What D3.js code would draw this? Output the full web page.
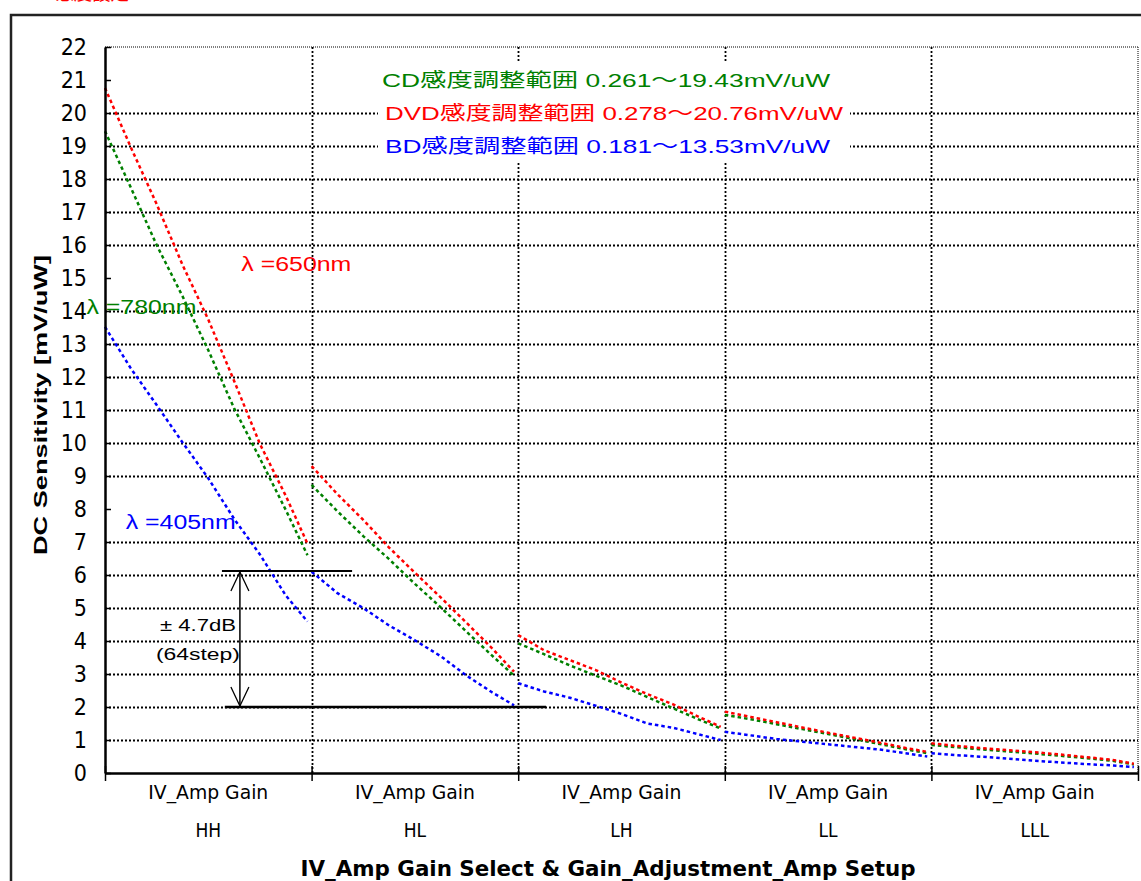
<!DOCTYPE html>
<html>
<head>
<meta charset="utf-8">
<script src="https://cdn.jsdelivr.net/npm/d3@7"></script>
<style>
  body { margin: 0; background: #fff; }
  svg { display: block; font-family: "Liberation Sans", Arial, "Noto Sans CJK JP", sans-serif; }
  .narrow { font-family: "Liberation Sans Narrow", "DejaVu Sans Condensed", "Liberation Sans", "Noto Sans CJK JP", sans-serif; }
</style>
</head>
<body>
<div id="chart"></div>
<script>
// gain settings (x categories)
var groups = ["HH", "HL", "LH", "LL", "LLL"];
// position of each read sample inside one gain group (0 = start, 1 = next group)
var stepPos = [0, 0.125, 0.25, 0.375, 0.5, 0.625, 0.75, 0.875, 0.98];

// DC sensitivity [mV/uW], one row per gain group
var cdValues = [
    [19.45, 17.74, 16.0, 14.45, 12.81, 11.05, 9.53, 7.97, 6.6],
    [8.73, 7.93, 7.18, 6.48, 5.73, 5.02, 4.28, 3.55, 2.95],
    [3.93, 3.6, 3.26, 2.95, 2.65, 2.3, 1.96, 1.62, 1.35],
    [1.76, 1.63, 1.48, 1.33, 1.18, 1.03, 0.88, 0.72, 0.6],
    [0.85, 0.78, 0.71, 0.65, 0.59, 0.52, 0.45, 0.37, 0.26]
];
var dvdValues = [
    [20.76, 18.96, 17.24, 15.4, 13.74, 11.88, 9.97, 8.4, 6.95],
    [9.3, 8.45, 7.67, 6.83, 6.07, 5.32, 4.55, 3.77, 3.07],
    [4.18, 3.72, 3.42, 3.12, 2.74, 2.39, 2.08, 1.7, 1.4],
    [1.86, 1.7, 1.54, 1.38, 1.22, 1.07, 0.92, 0.76, 0.64],
    [0.9, 0.82, 0.75, 0.69, 0.63, 0.56, 0.48, 0.4, 0.28]
];
var bdValues = [
    [13.52, 12.26, 11.15, 10.02, 8.93, 7.7, 6.62, 5.38, 4.59],
    [6.1, 5.45, 5.0, 4.47, 4.02, 3.54, 2.95, 2.44, 2.05],
    [2.72, 2.47, 2.28, 2.04, 1.79, 1.5, 1.37, 1.17, 1.0],
    [1.25, 1.14, 1.03, 0.95, 0.87, 0.79, 0.71, 0.6, 0.5],
    [0.6, 0.54, 0.49, 0.43, 0.37, 0.32, 0.27, 0.23, 0.18]
];

var yTicks = d3.range(0, 23);
var gridValues = [1, 2, 3, 4, 5, 6, 7, 9, 10, 11, 12, 13, 14, 16, 17, 18, 19, 20];

var legendTexts = [
    "CD感度調整範囲  0.261～19.43mV/uW",
    "DVD感度調整範囲  0.278～20.76mV/uW",
    "BD感度調整範囲  0.181～13.53mV/uW"
];
var seriesColors = ["#008000", "#ff0000", "#0000ff"];
var waveLabels = ["λ =780nm", "λ =650nm", "λ =405nm"];

// ±4.7dB range marker (sensitivity units)
var rangeTop = 6.12, rangeBottom = 2.0;

var W = 1141, H = 881;
var margin = { top: 47, right: 3, bottom: 108, left: 105 };
var width = W - margin.left - margin.right,
    height = H - margin.top - margin.bottom;

var svg = d3.select("#chart").append("svg")
    .attr("width", W)
    .attr("height", H);

// red caption, cut by the top edge as in the original
svg.append("text")
    .attr("x", 37).attr("y", 0)
    .attr("fill", "#ff0000")
    .attr("font-size", 18)
    .attr("textLength", 92)
    .attr("lengthAdjust", "spacingAndGlyphs")
    .text("※感度設定");

// outer frame
svg.append("rect")
    .attr("x", 11).attr("y", 15)
    .attr("width", 1200).attr("height", 1000)
    .attr("fill", "none")
    .attr("stroke", "#222")
    .attr("stroke-width", 2.5);

var g = svg.append("g")
    .attr("transform", "translate(" + margin.left + "," + margin.top + ")");

var x = d3.scaleLinear().domain([0, groups.length]).range([0, width]);
var y = d3.scaleLinear().domain([0, 22]).range([height, 0]);

// plot border (top / right)
g.append("line")
    .attr("x1", 0).attr("x2", width)
    .attr("y1", 0).attr("y2", 0)
    .attr("stroke", "#555").attr("stroke-width", 1.5)
    .attr("stroke-dasharray", "1,1");
g.append("line")
    .attr("x1", width).attr("x2", width)
    .attr("y1", 0).attr("y2", height)
    .attr("stroke", "#555").attr("stroke-width", 1.5)
    .attr("stroke-dasharray", "1,1");

// horizontal grid
g.append("g").attr("class", "grid")
    .selectAll("line")
    .data(gridValues).enter()
    .append("line")
    .attr("x1", 0).attr("x2", width)
    .attr("y1", function(d) { return Math.round(y(d)) + 0.5; })
    .attr("y2", function(d) { return Math.round(y(d)) + 0.5; })
    .attr("stroke", "#000")
    .attr("stroke-width", 1.8)
    .attr("stroke-dasharray", "2,2");

// vertical grid at group boundaries
g.append("g").attr("class", "vgrid")
    .selectAll("line")
    .data(d3.range(1, groups.length)).enter()
    .append("line")
    .attr("x1", function(d) { return Math.round(x(d)) + 0.5; })
    .attr("x2", function(d) { return Math.round(x(d)) + 0.5; })
    .attr("y1", 0).attr("y2", height)
    .attr("stroke", "#000")
    .attr("stroke-width", 1.8)
    .attr("stroke-dasharray", "2,2");

// legend block (white background hides grid)
var legend = g.append("g").attr("class", "legend");
legend.append("rect")
    .attr("x", 273).attr("y", 16)
    .attr("width", 472).attr("height", 100)
    .attr("fill", "#fff");
var legendLen = [448, 458, 445];
legend.selectAll("text")
    .data(legendTexts).enter()
    .append("text")
    .attr("x", function(d, i) { return i == 0 ? 277 : 280; })
    .attr("y", function(d, i) { return y(21 - i) + 7; })
    .attr("fill", function(d, i) { return seriesColors[i]; })
    .attr("font-size", 19)
    .attr("textLength", function(d, i) { return legendLen[i]; })
    .attr("lengthAdjust", "spacingAndGlyphs")
    .text(function(d) { return d; });

// curves, one path per gain group
var line = d3.line()
    .x(function(d) { return x(d.x); })
    .y(function(d) { return y(d.v); });

var seriesList = [cdValues, dvdValues, bdValues];
seriesList.forEach(function(series, si) {
    var segs = series.map(function(row, gi) {
        return row.map(function(v, k) { return { x: gi + stepPos[k], v: v }; });
    });
    g.append("g").attr("class", "series")
        .selectAll("path")
        .data(segs).enter()
        .append("path")
        .attr("d", line)
        .attr("fill", "none")
        .attr("stroke", seriesColors[si])
        .attr("stroke-width", 2.5)
        .attr("stroke-dasharray", "3.5,3");
});

// wavelength labels
var wavePos = [{ x: -0.09, v: 13.9 }, { x: 0.66, v: 15.2 }, { x: 0.1, v: 7.4 }];
g.selectAll(".wave")
    .data(waveLabels).enter()
    .append("text")
    .attr("class", "wave")
    .attr("x", function(d, i) { return x(wavePos[i].x); })
    .attr("y", function(d, i) { return y(wavePos[i].v); })
    .attr("fill", function(d, i) { return seriesColors[i]; })
    .attr("font-size", 20)
    .attr("textLength", 110)
    .attr("lengthAdjust", "spacingAndGlyphs")
    .text(function(d) { return d; });

// ±4.7dB marker
var ann = g.append("g").attr("class", "annotation")
    .attr("stroke", "#000").attr("fill", "none");
ann.append("line")
    .attr("x1", x(0.566)).attr("x2", x(1.196))
    .attr("y1", y(rangeTop)).attr("y2", y(rangeTop))
    .attr("stroke-width", 2);
ann.append("line")
    .attr("x1", x(0.58)).attr("x2", x(2.135))
    .attr("y1", y(rangeBottom)).attr("y2", y(rangeBottom))
    .attr("stroke-width", 2.5);
var ax = x(0.653);
ann.append("line")
    .attr("x1", ax).attr("x2", ax)
    .attr("y1", y(rangeTop) + 1).attr("y2", y(rangeBottom) - 1)
    .attr("stroke-width", 1.5);
ann.append("path")
    .attr("d", "M" + (ax - 9) + "," + (y(rangeTop) + 20) + "L" + ax + "," + (y(rangeTop) + 1) + "L" + (ax + 9) + "," + (y(rangeTop) + 20))
    .attr("stroke-width", 1.3);
ann.append("path")
    .attr("d", "M" + (ax - 9) + "," + (y(rangeBottom) - 20) + "L" + ax + "," + (y(rangeBottom) - 1) + "L" + (ax + 9) + "," + (y(rangeBottom) - 20))
    .attr("stroke-width", 1.3);
g.append("text")
    .attr("x", x(0.45)).attr("y", y(4.3))
    .attr("text-anchor", "middle")
    .attr("font-size", 16)
    .attr("textLength", 76)
    .attr("lengthAdjust", "spacingAndGlyphs")
    .text("± 4.7dB");
g.append("text")
    .attr("x", x(0.45)).attr("y", y(3.42))
    .attr("text-anchor", "middle")
    .attr("font-size", 16)
    .attr("textLength", 84)
    .attr("lengthAdjust", "spacingAndGlyphs")
    .text("(64step)");

// y axis
var yAxis = g.append("g")
    .attr("class", "y axis")
    .call(d3.axisLeft(y).tickValues(yTicks).tickSize(-6).tickSizeOuter(0).tickPadding(18));
yAxis.select(".domain").attr("stroke", "#000").attr("stroke-width", 2.5);
yAxis.selectAll(".tick line").attr("stroke", "#000").attr("stroke-width", 1.5);
yAxis.selectAll(".tick text")
    .attr("class", "narrow")
    .attr("font-size", 23)
    .attr("fill", "#000");

// x axis
var xAxis = g.append("g")
    .attr("class", "x axis")
    .attr("transform", "translate(0," + height + ")")
    .call(d3.axisBottom(x).tickValues(d3.range(0, groups.length + 1)).tickSizeOuter(0).tickFormat(""));
xAxis.select(".domain").attr("stroke", "#000").attr("stroke-width", 2.5);
xAxis.selectAll(".tick line")
    .attr("y1", -7).attr("y2", 8)
    .attr("stroke", "#000").attr("stroke-width", 1.5);

var cat = g.append("g").attr("class", "categories");
cat.selectAll(".gainlab")
    .data(groups).enter()
    .append("text")
    .attr("class", "gainlab narrow")
    .attr("x", function(d, i) { return x(i + 0.5); })
    .attr("y", height + 26)
    .attr("text-anchor", "middle")
    .attr("font-size", 19)
    .attr("textLength", 120)
    .attr("lengthAdjust", "spacingAndGlyphs")
    .text("IV_Amp Gain");
cat.selectAll(".gaincode")
    .data(groups).enter()
    .append("text")
    .attr("class", "gaincode narrow")
    .attr("x", function(d, i) { return x(i + 0.5); })
    .attr("y", height + 64)
    .attr("text-anchor", "middle")
    .attr("font-size", 19)
    .text(function(d) { return d; });

// axis titles
svg.append("text")
    .attr("transform", "translate(47,405) rotate(-90)")
    .attr("text-anchor", "middle")
    .attr("font-weight", "bold")
    .attr("font-size", 18)
    .attr("textLength", 300)
    .attr("lengthAdjust", "spacingAndGlyphs")
    .text("DC Sensitivity  [mV/uW]");

svg.append("text")
    .attr("class", "narrow")
    .attr("x", 608).attr("y", 876)
    .attr("text-anchor", "middle")
    .attr("font-weight", "bold")
    .attr("font-size", 22)
    .attr("textLength", 615)
    .attr("lengthAdjust", "spacingAndGlyphs")
    .text("IV_Amp Gain Select &  Gain_Adjustment_Amp Setup");
</script>
</body>
</html>
